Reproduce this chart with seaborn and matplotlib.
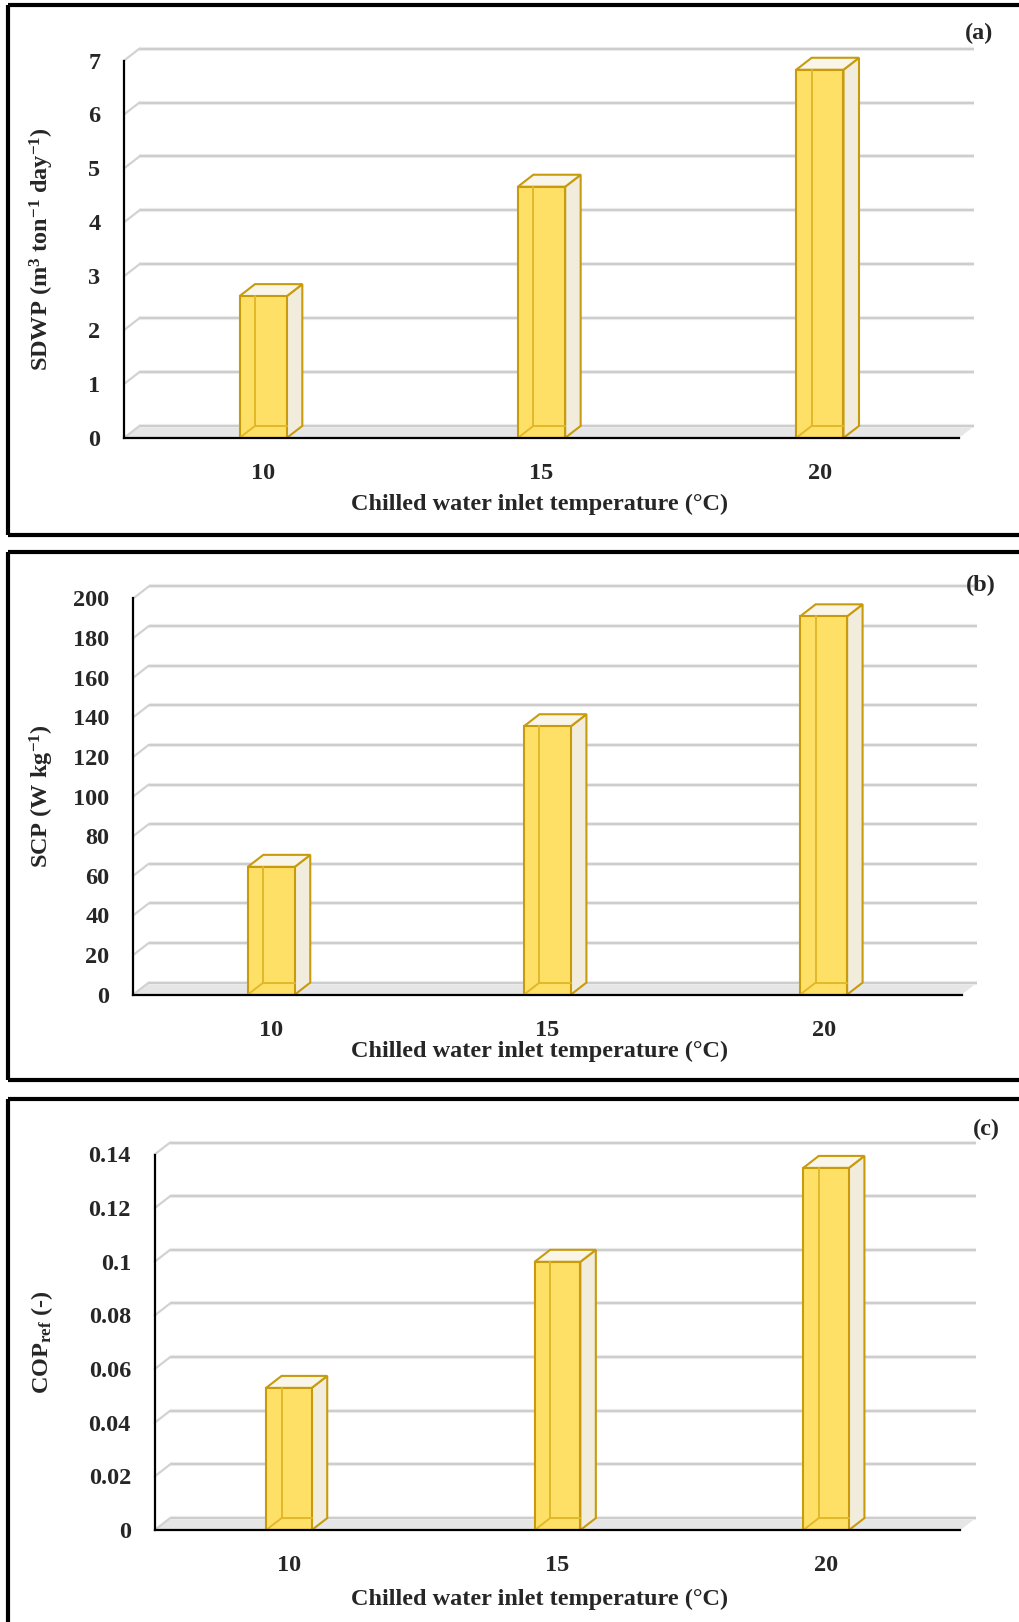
import matplotlib
matplotlib.use("Agg")
import matplotlib.pyplot as plt
from matplotlib.patches import Polygon
from matplotlib.lines import Line2D
import seaborn as sns

# ---- data -------------------------------------------------------------
temps = ["10", "15", "20"]                      # chilled water inlet temperature (°C)

sdwp = [2.63, 4.66, 6.83]                       # m3 ton-1 day-1
scp = [64.5, 135.5, 191.0]                      # W kg-1
cop_ref = [0.053, 0.100, 0.135]                 # -

sdwp_ticks = [0, 1, 2, 3, 4, 5, 6, 7]
sdwp_labels = ["0", "1", "2", "3", "4", "5", "6", "7"]
scp_ticks = [0, 20, 40, 60, 80, 100, 120, 140, 160, 180, 200]
scp_labels = ["0", "20", "40", "60", "80", "100", "120", "140", "160", "180", "200"]
cop_ticks = [0, 0.02, 0.04, 0.06, 0.08, 0.10, 0.12, 0.14]
cop_labels = ["0", "0.02", "0.04", "0.06", "0.08", "0.1", "0.12", "0.14"]

xlabel = "Chilled water inlet temperature (°C)"

# ---- style ------------------------------------------------------------
sns.set_style("white")
plt.rcParams["font.family"] = ["Liberation Serif", "DejaVu Serif"]
plt.rcParams["font.weight"] = "bold"
plt.rcParams["axes.labelweight"] = "bold"
plt.rcParams["mathtext.fontset"] = "custom"
plt.rcParams["mathtext.rm"] = "Liberation Serif:bold"
plt.rcParams["mathtext.bf"] = "Liberation Serif:bold"
plt.rcParams["mathtext.it"] = "Liberation Serif:italic:bold"

FS = 17.5
W, H, DPI = 1019, 1622, 100
DX, DY = 15.5, 12.0          # depth offset of the 3-D look, in pixels

FRONT = "#FFE066"
EDGE = "#C89B0C"
INNER = "#E2B82A"
SIDE = "#F1ECDC"
TOP = "#F9F5E9"
FLOOR = "#E6E6E6"

fig = plt.figure(figsize=(W / DPI, H / DPI), dpi=DPI)


def fx(px):
    return px / W


def fy(py):
    return 1 - py / H


def frame(top, bottom):
    """Black border open on the right side of the page."""
    lw = 3.0
    kw = dict(color="black", lw=lw, transform=fig.transFigure, solid_capstyle="butt")
    fig.add_artist(Line2D([fx(7.5), 1.0], [fy(top), fy(top)], **kw))
    if bottom is not None:
        fig.add_artist(Line2D([fx(7.5), 1.0], [fy(bottom), fy(bottom)], **kw))
        fig.add_artist(Line2D([fx(7.5), fx(7.5)], [fy(top), fy(bottom)], **kw))
    else:
        fig.add_artist(Line2D([fx(7.5), fx(7.5)], [fy(top), 0.0], **kw))


def panel(left, right, y_zero, y_top, values, ticks, ticklabels, ylabel,
          tag, tag_xy, xlabel_off):
    ax = fig.add_axes([fx(left), fy(y_zero), (right - left) / W, (y_zero - y_top) / H])
    ymax = ticks[-1]
    sns.barplot(x=temps, y=values, width=0.17, color=FRONT, saturation=1,
                edgecolor=EDGE, linewidth=1.5, errorbar=None, ax=ax)
    bars = list(ax.patches)
    ax.set_xlim(-0.5, 2.5)
    ax.set_ylim(0, ymax)

    ax_w, ax_h = right - left, y_zero - y_top
    ddx = DX * 3.0 / ax_w
    ddy = DY * ymax / ax_h

    # floor and back wall grid
    ax.add_patch(Polygon([(-0.5, 0), (2.5, 0), (2.5 + ddx, ddy), (-0.5 + ddx, ddy)],
                         closed=True, facecolor=FLOOR, edgecolor="none",
                         zorder=0.5, clip_on=False))
    for t in ticks:
        ax.plot([-0.5 + ddx, 2.5 + ddx], [t + ddy, t + ddy], color="#EBEBEB",
                lw=3.0, zorder=0.6, clip_on=False, solid_capstyle="butt")
        ax.plot([-0.5 + ddx, 2.5 + ddx], [t + ddy, t + ddy], color="#C4C4C4",
                lw=1.1, zorder=0.7, clip_on=False, solid_capstyle="butt")
        ax.plot([-0.5, -0.5 + ddx], [t, t + ddy], color="#D2D2D2",
                lw=1.6, zorder=0.7, clip_on=False)

    # 3-D faces built on the seaborn bars
    for p in bars:
        x0, w, h = p.get_x(), p.get_width(), p.get_height()
        p.set_zorder(3)
        ax.add_patch(Polygon([(x0 + w, 0), (x0 + w + ddx, ddy), (x0 + w + ddx, h + ddy),
                              (x0 + w, h)], closed=True, facecolor=SIDE,
                             edgecolor=EDGE, lw=1.5, zorder=2, clip_on=False))
        ax.add_patch(Polygon([(x0, h), (x0 + ddx, h + ddy), (x0 + w + ddx, h + ddy),
                              (x0 + w, h)], closed=True, facecolor=TOP,
                             edgecolor=EDGE, lw=1.5, zorder=2, clip_on=False))
        ikw = dict(color=INNER, lw=1.4, zorder=3.5, clip_on=False)
        ax.plot([x0 + ddx, x0 + ddx], [ddy, h], **ikw)
        ax.plot([x0 + ddx, x0 + w], [ddy, ddy], **ikw)
        ax.plot([x0, x0 + ddx], [0, ddy], **ikw)

    # axes
    for s in ["top", "right"]:
        ax.spines[s].set_visible(False)
    for s in ["left", "bottom"]:
        ax.spines[s].set_linewidth(1.6)
        ax.spines[s].set_color("black")
        ax.spines[s].set_zorder(4)
    ax.set_yticks(ticks, labels=ticklabels)
    ax.tick_params(axis="y", direction="in", length=6.5, width=1.5, pad=17,
                   labelsize=FS, color="black")
    ax.set_xticks([0, 1, 2], labels=temps)
    ax.set_xticks([0.5, 1.5, 2.5], minor=True)
    ax.tick_params(axis="x", which="major", length=0, pad=18, labelsize=FS)
    ax.tick_params(axis="x", which="minor", direction="in", length=6.5, width=1.5,
                   color="black")
    ax.grid(False)
    ax.set_facecolor("none")

    ax.set_xlabel(xlabel, fontsize=FS, va="center")
    ax.xaxis.set_label_coords((540 - left) / ax_w, -xlabel_off / ax_h)
    ax.set_ylabel(ylabel, fontsize=FS, va="center")
    ax.yaxis.set_label_coords(-(left - 42) / ax_w, 0.5)

    fig.text(fx(tag_xy[0]), fy(tag_xy[1]), tag, fontsize=FS, fontweight="bold",
             ha="center", va="center")
    return ax


frame(5, 535)
frame(552, 1080)
frame(1099, None)

panel(124, 959, 437.9, 60.6, sdwp, sdwp_ticks, sdwp_labels,
      r"SDWP (m$^{3}$ ton$^{-1}$ day$^{-1}$)", "(a)", (979, 33), 67)
panel(133.2, 961.7, 994.6, 598.5, scp, scp_ticks, scp_labels,
      r"SCP (W kg$^{-1}$)", "(b)", (981, 585), 57)
panel(154.6, 960.4, 1530.1, 1154.5, cop_ref, cop_ticks, cop_labels,
      r"COP$_{\mathrm{ref}}$ (-)", "(c)", (986, 1129), 69)

fig.savefig("out.png", dpi=DPI, facecolor="white")
